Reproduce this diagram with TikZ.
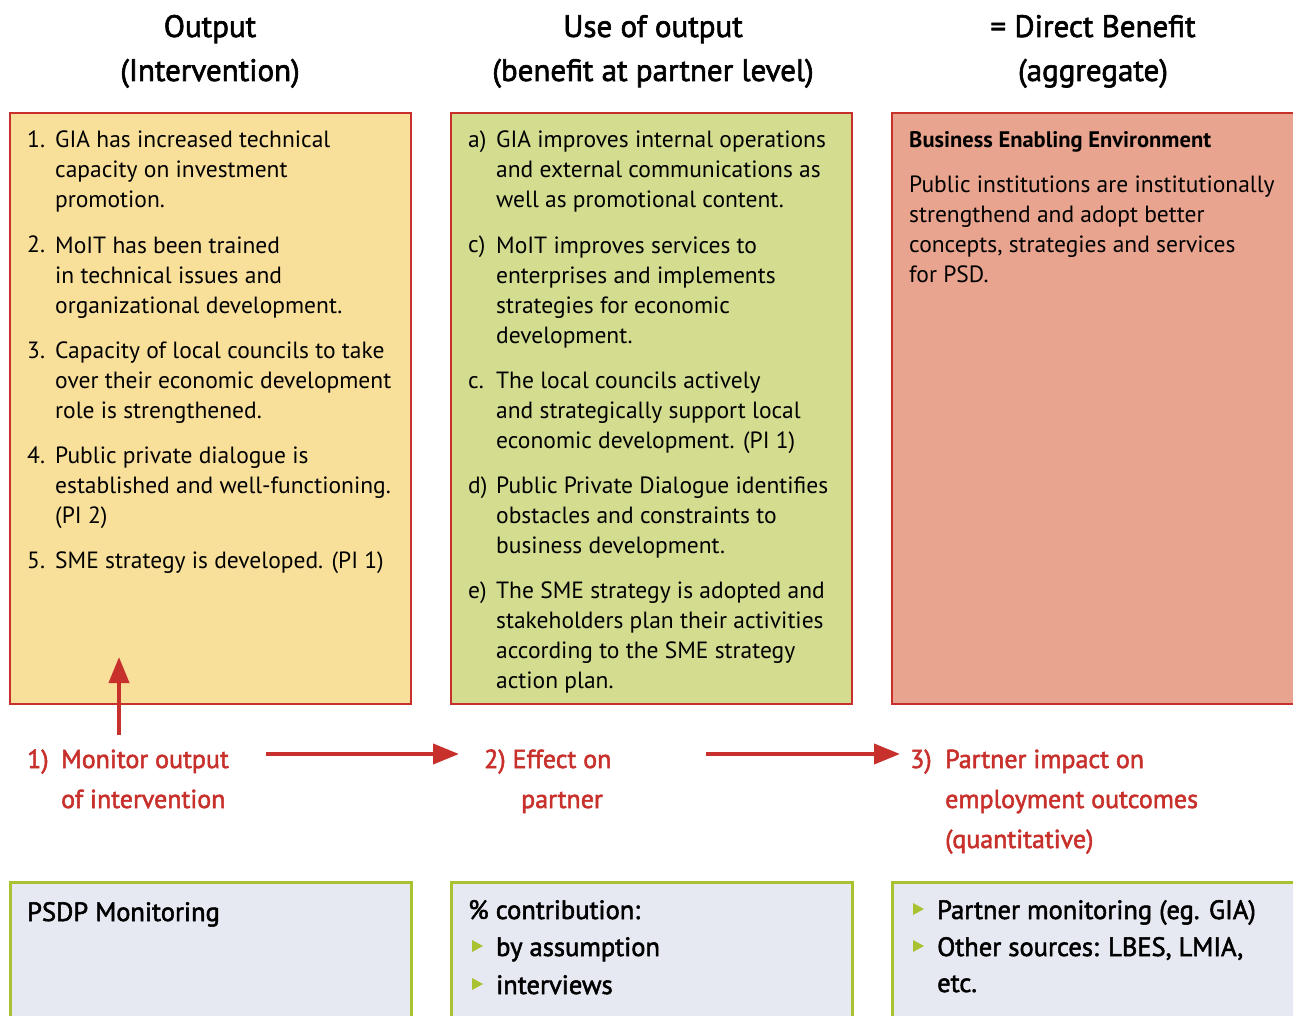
\documentclass[tikz,border=0pt]{standalone}
\usepackage{fontspec}
\setmainfont{PT Sans}
\newfontfamily\medfont[FakeBold=2]{PT Sans}
\usetikzlibrary{arrows.meta}
\definecolor{redc}{HTML}{C8302C}
\definecolor{yelf}{HTML}{F9E09A}
\definecolor{grnf}{HTML}{D4DC90}
\definecolor{salf}{HTML}{E8A48E}
\definecolor{botf}{HTML}{E6E9F2}
\definecolor{botb}{HTML}{A8C232}
\tikzset{
  topbox/.style={draw=redc, line width=2pt},
  botbox/.style={draw=botb, fill=botf, line width=3pt},
  head/.style={font=\medfont\fontsize{31}{44}\selectfont, align=center, inner sep=0pt, anchor=base},
  body/.style={font=\fontsize{23.5}{30}\selectfont, align=left, inner sep=0pt, anchor=base west},
  num/.style={font=\fontsize{23.5}{30}\selectfont, inner sep=0pt, anchor=base west},
  redlab/.style={font=\medfont\fontsize{26}{40}\selectfont, text=redc, align=left, inner sep=0pt, anchor=base west},
  botlab/.style={font=\medfont\fontsize{26.5}{36}\selectfont, align=left, inner sep=0pt, anchor=base west},
  bigarrow/.style={draw=redc, line width=4pt, -{Triangle[length=26pt,width=20pt]}},
  bullet/.style={fill=botb, draw=none}
}
\begin{document}
\begin{tikzpicture}[x=1pt,y=-1pt]
\useasboundingbox (0,0) rectangle (1293,1016);
\clip (0,0) rectangle (1293,1016);
% headers (anchor = baseline of last line)
\node[head] (h1) at (210,81) {Output\\(Intervention)};
\node[head] (h2) at (653,81) {Use of output\\(benefit at partner level)};
\node[head] (h3) at (1093,81) {= Direct Benefit\\(aggregate)};
% top boxes
\draw[topbox, fill=yelf] (10,113) rectangle (411,704);
\draw[topbox, fill=grnf] (451,113) rectangle (852,704);
\draw[topbox, fill=salf] (892,113) rectangle (1300,704);
% yellow items
\node[num] (n1) at (27,148) {1.};
\node[body] (y1) at (55,208) {GIA has increased technical\\capacity on investment\\promotion.};
\node[num] (n2) at (27,253) {2.};
\node[body] (y2) at (55,313) {MoIT has been trained\\in technical issues and\\organizational development.};
\node[num] (n3) at (27,358) {3.};
\node[body] (y3) at (55,418) {Capacity of local councils to take\\over their economic development\\role is strengthened.};
\node[num] (n4) at (27,463) {4.};
\node[body] (y4) at (55,523) {Public private dialogue is\\established and well-functioning.\\(PI 2)};
\node[num] (n5) at (27,568) {5.};
\node[body] (y5) at (55,568) {SME strategy is developed. (PI 1)};
% green items
\node[num] (ga) at (468,148) {a)};
\node[body] (g1) at (496,208) {GIA improves internal operations\\and external communications as\\well as promotional content.};
\node[num] (gc) at (468,253) {c)};
\node[body] (g2) at (496,343) {MoIT improves services to\\enterprises and implements\\strategies for economic\\development.};
\node[num] (gc2) at (468,388) {c.};
\node[body] (g3) at (496,448) {The local councils actively\\and strategically support local\\economic development. (PI 1)};
\node[num] (gd) at (468,493) {d)};
\node[body] (g4) at (496,553) {Public Private Dialogue identifies\\obstacles and constraints to\\business development.};
\node[num] (ge) at (468,598) {e)};
\node[body] (g5) at (496,688) {The SME strategy is adopted and\\stakeholders plan their activities\\according to the SME strategy\\action plan.};
% salmon
\node[body, font=\bfseries\fontsize{22.5}{30}\selectfont] (s0) at (909,148) {Business Enabling Environment};
\node[body] (s1) at (909,283) {Public institutions are institutionally\\strengthend and adopt better\\concepts, strategies and services\\for PSD.};
% red labels
\node[redlab] (r1n) at (27,768) {1)};
\node[redlab] (r1) at (61,808) {Monitor output\\of intervention};
\node[redlab, align=center] (r2) at (484,808) {2) Effect on\\\hphantom{2) }partner};
\node[redlab] (r3n) at (910,768) {3)};
\node[redlab] (r3) at (945,848) {Partner impact on\\employment outcomes\\(quantitative)};
% arrows
\coordinate (a0s) at (119,735);
\coordinate (a0e) at (119,657);
\coordinate (a1s) at (266,754);
\coordinate (a1e) at (459,754);
\coordinate (a2s) at (706,754);
\coordinate (a2e) at (900,754);
\draw[bigarrow] (a0s) -- (a0e);
\draw[bigarrow] (a1s) -- (a1e);
\draw[bigarrow] (a2s) -- (a2e);
% bottom boxes
\draw[botbox] (10,882) rectangle (411,1030);
\draw[botbox] (451,882) rectangle (852,1030);
\draw[botbox] (892,882) rectangle (1300,1030);
\node[botlab] (b1) at (27,921) {PSDP Monitoring};
\node[botlab] (b2) at (468,919) {\% contribution:};
\node[botlab] (b2a) at (496,956) {by assumption};
\node[botlab] (b2b) at (496,994) {interviews};
\node[botlab] (b3a) at (937,919) {Partner monitoring (eg. GIA)};
\node[botlab] (b3b) at (937,992) {Other sources: LBES, LMIA,\\etc.};
\fill[bullet] (472,940) -- (483,946) -- (472,952) -- cycle;
\fill[bullet] (472,978) -- (483,984) -- (472,990) -- cycle;
\fill[bullet] (913,903) -- (924,909) -- (913,915) -- cycle;
\fill[bullet] (913,940) -- (924,946) -- (913,952) -- cycle;
\end{tikzpicture}
\end{document}
